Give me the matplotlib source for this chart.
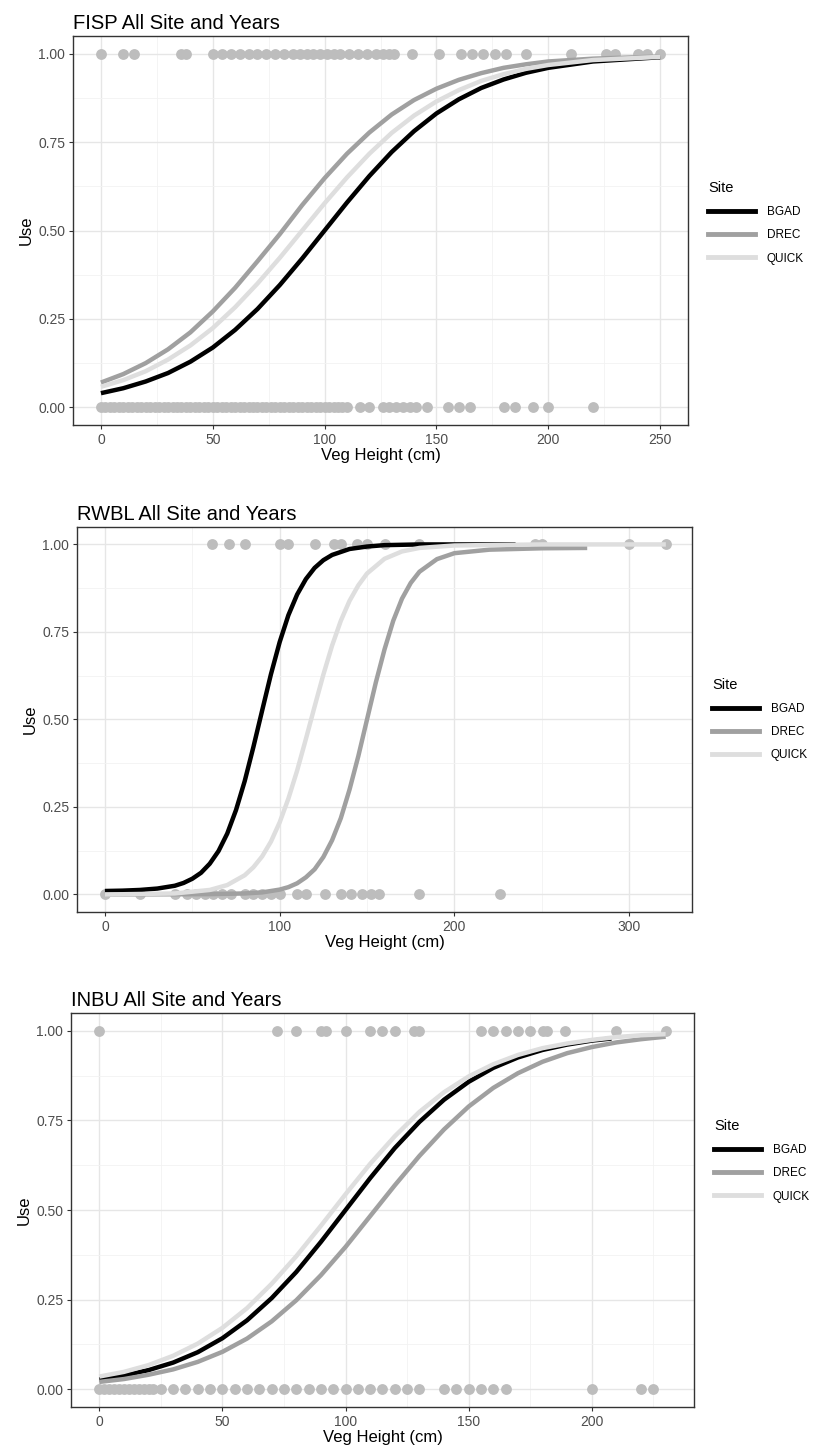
import numpy as np
import matplotlib
matplotlib.use('Agg')
import matplotlib.pyplot as plt
from matplotlib.lines import Line2D

plt.rcParams['font.family'] = ['Liberation Sans', 'DejaVu Sans']

# Цвета линий по участкам
sites = ['BGAD', 'DREC', 'QUICK']
site_colors = ['#000000', '#A0A0A0', '#DEDEDE']
point_color = '#BDBDBD'

# ---------- FISP ----------
fisp_x = [0, 10, 20, 30, 40, 50, 60, 70, 80, 90, 100, 110, 120, 130, 140, 150,
          160, 170, 180, 190, 200, 220, 250]
fisp_bgad = [0.040, 0.054, 0.073, 0.097, 0.129, 0.169, 0.219, 0.278, 0.346, 0.421, 0.500,
             0.579, 0.654, 0.722, 0.781, 0.831, 0.871, 0.903, 0.927, 0.946, 0.960, 0.978, 0.990]
fisp_drec = [0.070, 0.094, 0.125, 0.164, 0.212, 0.271, 0.338, 0.413, 0.490, 0.572, 0.648,
             0.717, 0.777, 0.828, 0.869, 0.901, 0.926, 0.945, 0.960, 0.970, 0.978, 0.986, 0.992]
fisp_quick = [0.058, 0.077, 0.102, 0.135, 0.175, 0.224, 0.283, 0.350, 0.423, 0.500, 0.577,
              0.650, 0.717, 0.776, 0.825, 0.865, 0.897, 0.923, 0.942, 0.957, 0.968, 0.982, 0.991]
fisp_used = [0, 10, 15, 36, 38, 50, 54, 58, 62, 66, 70, 74, 78, 82, 86, 89, 92, 95, 98,
             101, 104, 107, 111, 115, 119, 123, 126, 129, 131, 139, 151, 161, 166, 171,
             176, 181, 190, 210, 226, 230, 240, 244, 250]
fisp_unused = [0, 2, 4, 6, 8, 10, 12, 14, 16, 18, 20, 22, 24, 26, 28, 30, 32, 34, 36, 38,
               40, 42, 44, 46, 48, 50, 52, 54, 56, 58, 60, 62, 64, 66, 68, 70, 72, 74, 76,
               78, 80, 82, 84, 86, 88, 90, 92, 94, 96, 98, 100, 102, 104, 106, 108, 110,
               116, 120, 126, 129, 132, 135, 138, 141, 146, 155, 160, 165, 180, 185, 193,
               200, 220]

# ---------- RWBL ----------
rwbl_bgad_x = [0, 10, 20, 30, 40, 45, 50, 55, 60, 65, 70, 75, 80, 85, 90, 95, 100, 105,
               110, 115, 120, 125, 130, 140, 150, 160, 180, 235]
rwbl_bgad = [0.010, 0.011, 0.013, 0.017, 0.025, 0.033, 0.045, 0.062, 0.088, 0.124, 0.174,
             0.241, 0.324, 0.422, 0.526, 0.629, 0.721, 0.798, 0.857, 0.901, 0.933, 0.955,
             0.970, 0.987, 0.994, 0.998, 1.000, 1.000]
rwbl_drec_x = [0, 60, 80, 90, 100, 105, 110, 115, 120, 125, 130, 135, 140, 145, 150, 155,
               160, 165, 170, 175, 180, 190, 200, 220, 250, 276]
rwbl_drec = [0.000, 0.001, 0.003, 0.006, 0.014, 0.021, 0.032, 0.049, 0.072, 0.107, 0.155,
             0.218, 0.300, 0.395, 0.500, 0.605, 0.700, 0.782, 0.845, 0.890, 0.922, 0.958,
             0.975, 0.985, 0.989, 0.990]
rwbl_quick_x = [0, 40, 60, 70, 80, 85, 90, 95, 100, 105, 110, 115, 120, 125, 130, 135,
                140, 145, 150, 160, 170, 180, 200, 250, 321]
rwbl_quick = [0.000, 0.003, 0.013, 0.027, 0.055, 0.078, 0.109, 0.151, 0.206, 0.274, 0.354,
              0.444, 0.537, 0.628, 0.711, 0.782, 0.839, 0.883, 0.917, 0.959, 0.980, 0.990,
              0.997, 1.000, 1.000]
rwbl_used = [61, 71, 80, 100, 105, 120, 131, 135, 144, 150, 160, 180, 246, 250, 300, 321]
rwbl_unused = [0, 20, 40, 47, 52, 57, 62, 67, 72, 80, 85, 90, 95, 100, 110, 115, 126,
               135, 141, 147, 152, 157, 180, 226]

# ---------- INBU ----------
inbu_x = [0, 10, 20, 30, 40, 50, 60, 70, 80, 90, 100, 110, 120, 130, 140, 150, 160,
          170, 180, 190, 200, 208]
inbu_bgad = [0.027, 0.038, 0.053, 0.074, 0.103, 0.142, 0.192, 0.254, 0.327, 0.411, 0.500,
             0.589, 0.673, 0.746, 0.808, 0.858, 0.897, 0.926, 0.947, 0.962, 0.973, 0.979]
inbu_x2 = [0, 10, 20, 30, 40, 50, 60, 70, 80, 90, 100, 110, 120, 130, 140, 150, 160,
           170, 180, 190, 200, 210, 220, 230]
inbu_drec = [0.020, 0.028, 0.040, 0.055, 0.076, 0.104, 0.141, 0.189, 0.248, 0.318, 0.397,
             0.483, 0.569, 0.651, 0.725, 0.789, 0.841, 0.882, 0.914, 0.938, 0.955, 0.968,
             0.977, 0.984]
inbu_quick = [0.035, 0.048, 0.067, 0.093, 0.127, 0.171, 0.226, 0.294, 0.371, 0.456, 0.544,
              0.629, 0.706, 0.774, 0.829, 0.873, 0.907, 0.933, 0.952, 0.965, 0.975, 0.983,
              0.988, 0.991]
inbu_used = [0, 72, 80, 90, 92, 100, 110, 115, 120, 128, 130, 155, 160, 165, 170, 175,
             180, 182, 189, 210, 230]
inbu_unused = [0, 2, 4, 6, 8, 10, 12, 14, 16, 18, 20, 22, 25, 30, 35, 40, 45, 50, 55, 60,
               65, 70, 75, 80, 85, 90, 95, 100, 105, 110, 115, 120, 125, 130, 140, 145,
               150, 155, 160, 165, 200, 220, 225]

panels = [
    dict(title='FISP All Site and Years', pos=[0.0877, 0.7073, 0.7393, 0.2679],
         lines=[(fisp_x, fisp_bgad), (fisp_x, fisp_drec), (fisp_x, fisp_quick)],
         used=fisp_used, unused=fisp_unused, xmax=250, xticks=[0, 50, 100, 150, 200, 250],
         leg_y=0.52),
    dict(title='RWBL All Site and Years', pos=[0.0925, 0.3719, 0.7393, 0.2652],
         lines=[(rwbl_bgad_x, rwbl_bgad), (rwbl_drec_x, rwbl_drec), (rwbl_quick_x, rwbl_quick)],
         used=rwbl_used, unused=rwbl_unused, xmax=320, xticks=[0, 100, 200, 300],
         leg_y=0.5),
    dict(title='INBU All Site and Years', pos=[0.0853, 0.0310, 0.7488, 0.2713],
         lines=[(inbu_x, inbu_bgad), (inbu_x2, inbu_drec), (inbu_x2, inbu_quick)],
         used=inbu_used, unused=inbu_unused, xmax=230, xticks=[0, 50, 100, 150, 200],
         leg_y=0.625),
]

fig = plt.figure(figsize=(8.32, 14.52), dpi=100)

for p in panels:
    ax = fig.add_axes(p['pos'])

    # Точки наблюдений (0 и 1)
    ax.plot(p['unused'], [0] * len(p['unused']), 'o', color=point_color, ms=7.8,
            mec='none', zorder=2)
    ax.plot(p['used'], [1] * len(p['used']), 'o', color=point_color, ms=7.8,
            mec='none', zorder=2)

    # Кривые по участкам
    for (xs, ys), c in zip(p['lines'], site_colors):
        ax.plot(xs, ys, color=c, lw=3.2, solid_capstyle='butt', zorder=3)

    # Оси как в ggplot (расширение 5%)
    pad = p['xmax'] * 0.05
    ax.set_xlim(-pad, p['xmax'] + pad)
    ax.set_ylim(-0.05, 1.05)
    ax.set_xticks(p['xticks'])
    ax.set_yticks([0, 0.25, 0.5, 0.75, 1.0])
    ax.set_yticklabels(['0.00', '0.25', '0.50', '0.75', '1.00'])
    step = p['xticks'][1] - p['xticks'][0]
    ax.set_xticks([t + step / 2 for t in p['xticks'] if t + step / 2 < p['xmax'] + pad],
                  minor=True)
    ax.set_yticks([0.125, 0.375, 0.625, 0.875], minor=True)

    # Сетка
    ax.grid(True, which='major', color='#E6E6E6', lw=1.0, zorder=0)
    ax.grid(True, which='minor', color='#F2F2F2', lw=0.6, zorder=0)
    ax.set_axisbelow(True)

    ax.tick_params(which='major', length=3, color='#333333', labelsize=10,
                   labelcolor='#4D4D4D', width=0.8, pad=2.5)
    ax.tick_params(which='minor', length=0)
    for s in ax.spines.values():
        s.set_color('#333333')
        s.set_linewidth(1.0)

    ax.set_xlabel('Veg Height (cm)', fontsize=12, labelpad=1)
    ax.set_ylabel('Use', fontsize=12, labelpad=3)
    ax.set_title(p['title'], loc='left', fontsize=14.5, pad=5)

    # Легенда
    handles = [Line2D([0], [0], color=c, lw=3.5) for c in site_colors]
    leg = ax.legend(handles, sites, title='Site', loc='center left',
                    bbox_to_anchor=(1.015, p['leg_y']), frameon=False, fontsize=8.5,
                    title_fontsize=10.5, handlelength=4.0, alignment='left',
                    labelspacing=0.95, handletextpad=1.0)

fig.savefig('out.png', dpi=100)
